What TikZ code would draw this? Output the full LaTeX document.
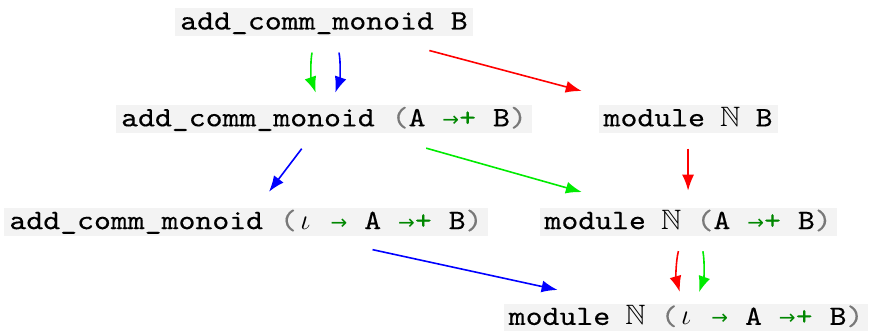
\documentclass[tikz,border=0pt]{standalone}
\usepackage{amssymb}
\usepackage{fontspec}
\setmonofont{lmmono10-regular.otf}[FakeStretch=1.15, FakeBold=0.3]
\newfontfamily\symfont{DejaVu Sans}
\usetikzlibrary{arrows.meta,positioning}
\definecolor{codebg}{RGB}{243,243,243}
\definecolor{pargray}{RGB}{120,120,120}
\definecolor{arrgreen}{RGB}{0,135,0}
\definecolor{lgreen}{RGB}{0,235,0}
\newcommand{\lp}{\textcolor{pargray}{(}}
\newcommand{\rp}{\textcolor{pargray}{)}}
\newcommand{\tto}{\textcolor{arrgreen}{\makebox[0.6em]{\symfont\fontsize{10}{10}\selectfont →}}}
\newcommand{\ahom}{\tto\textcolor{arrgreen}{+}}
\newcommand{\natN}{\makebox[0.6em]{$\mathbb{N}$}}
\newcommand{\iot}{\makebox[0.6em]{$\iota$}}

\begin{document}
\begin{tikzpicture}[>={Latex[length=8pt,width=6pt]},
  code/.style={fill=codebg, inner xsep=2.5pt, inner ysep=0pt, text height=10.5pt, text depth=3.5pt, font=\ttfamily\fontsize{14}{16}\selectfont},
  lnk/.style={->, line width=0.8pt}]
  \useasboundingbox (0,0) rectangle (435.5pt,-165.5pt);
  \node[code] (b) at (162pt,-11.25pt) {add\_comm\_monoid B};
  \node[code, below=34pt of b] (ab) {add\_comm\_monoid \lp{}A \ahom{} B\rp};
  \node[code, right=33pt of ab] (mn) {module \natN{} B};
  \node[code, below=37pt of ab, xshift=-39pt] (abi) {add\_comm\_monoid \lp\iot{} \tto{} A \ahom{} B\rp};
  \node[code, below=37pt of mn] (mnab) {module \natN{} \lp{}A \ahom{} B\rp};
  \node[code, below=33.5pt of mnab, xshift=-1pt] (mni) {module \natN{} \lp\iot{} \tto{} A \ahom{} B\rp};
  \draw[lnk, lgreen, shorten <=8pt, shorten >=6.5pt] ([xshift=-4.5pt]b.south) to[bend right=15] ([xshift=-2pt]ab.north);
  \draw[lnk, blue, shorten <=8pt, shorten >=6.5pt] ([xshift=6pt]b.south) to[bend left=15] ([xshift=3.5pt]ab.north);
  \draw[lnk, red, shorten <=26.5pt, shorten >=27pt] (b) -- (mn);
  \draw[lnk, blue, shorten <=9.4pt, shorten >=10pt] (ab) -- (abi);
  \draw[lnk, lgreen, shorten <=26.6pt, shorten >=28.7pt] (ab) -- (mnab);
  \draw[lnk, red, shorten <=7.5pt, shorten >=8.5pt] (mn) -- (mnab);
  \draw[lnk, blue, shorten <=30.9pt, shorten >=31.9pt] (abi) -- (mni);
  \draw[lnk, red, shorten <=7.5pt, shorten >=6pt] ([xshift=-3pt]mnab.south) to[bend right=15] ([xshift=-1.5pt]mni.north);
  \draw[lnk, lgreen, shorten <=7.5pt, shorten >=6pt] ([xshift=6pt]mnab.south) to[bend left=15] ([xshift=4.5pt]mni.north);
\end{tikzpicture}
\end{document}
